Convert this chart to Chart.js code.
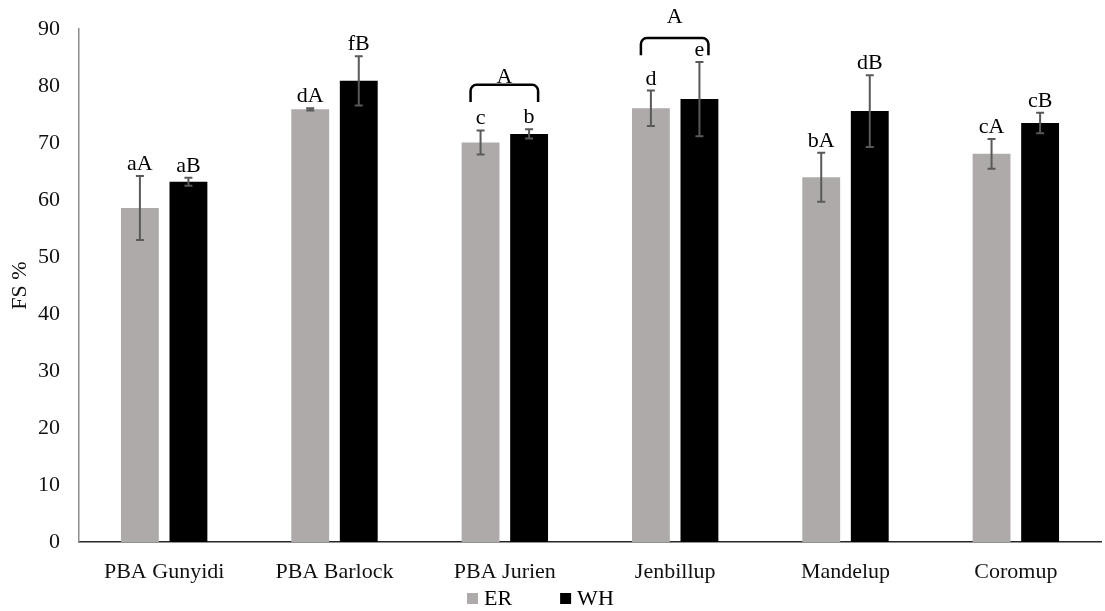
<!DOCTYPE html>
<html>
<head>
<meta charset="utf-8">
<script src="https://cdn.jsdelivr.net/npm/chart.js@4.4.1/dist/chart.umd.min.js"></script>
<style>
  html, body { margin: 0; padding: 0; background: #ffffff; }
  #wrap { width: 1105px; height: 611px; position: relative; }
</style>
</head>
<body>
<div id="wrap"><canvas id="c" width="1105" height="611"></canvas></div>
<script>
// Cultivars on the x axis
const categories = ['PBA Gunyidi', 'PBA Barlock', 'PBA Jurien', 'Jenbillup', 'Mandelup', 'Coromup'];

// FS % means and their error values
const erValues = [58.6, 75.9, 70.1, 76.1, 64.0, 68.1];
const erErrors = [5.6, 0.2, 2.1, 3.1, 4.3, 2.6];
const whValues = [63.2, 80.9, 71.6, 77.7, 75.6, 73.5];
const whErrors = [0.7, 4.3, 0.8, 6.5, 6.3, 1.8];

// Significance letters written above each bar
const erLetters = ['aA', 'dA', 'c', 'd', 'bA', 'cA'];
const whLetters = ['aB', 'fB', 'b', 'e', 'dB', 'cB'];

// Groups joined by a bracket, with the bracket level and letter level (FS %)
const bracketGroups = ['PBA Jurien', 'Jenbillup'];
const bracketLevels = [80.2, 88.4];
const bracketLetterLevels = [80.5, 91.1];
const bracketLetters = ['A', 'A'];

// Y axis ticks
const yTicks = [0, 10, 20, 30, 40, 50, 60, 70, 80, 90];

const FONT = "'Liberation Serif', 'Times New Roman', serif";

// Error bars, letters and brackets drawn over the bars
const annotations = {
  id: 'annotations',
  afterDatasetsDraw(chart) {
    const ctx = chart.ctx;
    const y = chart.scales.y;
    const errs = [erErrors, whErrors];
    const letters = [erLetters, whLetters];
    ctx.save();
    chart.data.datasets.forEach((ds, di) => {
      const meta = chart.getDatasetMeta(di);
      meta.data.forEach((bar, i) => {
        const v = ds.data[i];
        const e = errs[di][i];
        const yTop = y.getPixelForValue(v + e);
        const yBot = y.getPixelForValue(v - e);
        const x = bar.x;
        ctx.strokeStyle = '#595959';
        ctx.lineWidth = 2;
        ctx.beginPath();
        ctx.moveTo(x, yTop); ctx.lineTo(x, yBot);
        ctx.moveTo(x - 4, yTop); ctx.lineTo(x + 4, yTop);
        ctx.moveTo(x - 4, yBot); ctx.lineTo(x + 4, yBot);
        ctx.stroke();
        ctx.fillStyle = '#000';
        ctx.font = '22px ' + FONT;
        ctx.textAlign = 'center';
        ctx.textBaseline = 'alphabetic';
        ctx.fillText(letters[di][i], x, yTop - 6);
      });
    });
    // brackets
    const m0 = chart.getDatasetMeta(0), m1 = chart.getDatasetMeta(1);
    bracketGroups.forEach((g, k) => {
      const i = categories.indexOf(g);
      const x0 = m0.data[i].x - 10;
      const x1 = m1.data[i].x + 9;
      const yt = y.getPixelForValue(bracketLevels[k]);
      const yb = y.getPixelForValue(bracketLevels[k] - 3);
      const r = 6;
      ctx.strokeStyle = '#000';
      ctx.lineWidth = 2.5;
      ctx.beginPath();
      ctx.moveTo(x0, yb);
      ctx.arcTo(x0, yt, x0 + r, yt, r);
      ctx.lineTo(x1 - r, yt);
      ctx.arcTo(x1, yt, x1, yb, r);
      ctx.lineTo(x1, yb);
      ctx.stroke();
      ctx.fillStyle = '#000';
      ctx.font = '22px ' + FONT;
      ctx.textAlign = 'center';
      ctx.textBaseline = 'alphabetic';
      ctx.fillText(bracketLetters[k], (x0 + x1) / 2, y.getPixelForValue(bracketLetterLevels[k]));
    });
    ctx.restore();
  }
};

// Series key under the category labels
const seriesKey = {
  id: 'seriesKey',
  afterDraw(chart) {
    const ctx = chart.ctx;
    ctx.save();
    ctx.font = '22px ' + FONT;
    ctx.textBaseline = 'middle';
    ctx.textAlign = 'left';
    const cy = 599;
    let x = 467;
    chart.data.datasets.forEach((ds) => {
      ctx.fillStyle = ds.backgroundColor;
      ctx.fillRect(x, cy - 6, 11, 11);
      ctx.fillStyle = '#000';
      ctx.fillText(ds.label, x + 17, cy);
      x += 17 + ctx.measureText(ds.label).width + 48;
    });
    ctx.restore();
  }
};

new Chart(document.getElementById('c'), {
  type: 'bar',
  data: {
    labels: categories,
    datasets: [
      { label: 'ER', data: erValues, backgroundColor: '#AEAAAA', categoryPercentage: 0.57, barPercentage: 0.78 },
      { label: 'WH', data: whValues, backgroundColor: '#000000', categoryPercentage: 0.57, barPercentage: 0.78 }
    ]
  },
  options: {
    responsive: false,
    animation: false,
    devicePixelRatio: 1,
    layout: { padding: { left: 0, right: 4, top: 29, bottom: 0 } },
    plugins: {
      legend: { display: false },
      tooltip: { enabled: false }
    },
    scales: {
      x: {
        grid: { display: false, drawTicks: false },
        border: { display: true, color: '#262626', width: 1.5 },
        ticks: { color: '#111', font: { family: FONT, size: 22 }, padding: 17, maxRotation: 0 },
        afterFit(scale) { scale.height = 69; }
      },
      y: {
        min: 0, max: 90,
        afterBuildTicks(scale) { scale.ticks = yTicks.map(v => ({ value: v })); },
        grid: { display: false, drawTicks: false },
        border: { display: true, color: '#8c8c8c', width: 1.5 },
        ticks: { color: '#111', font: { family: FONT, size: 22 }, padding: 19 },
        title: { display: true, text: 'FS %', color: '#111', font: { family: FONT, size: 22 }, padding: { top: 7, bottom: 0 } },
        afterFit(scale) { scale.width = 79; scale.paddingTop = 0; }
      }
    }
  },
  plugins: [annotations, seriesKey]
});
</script>
</body>
</html>
